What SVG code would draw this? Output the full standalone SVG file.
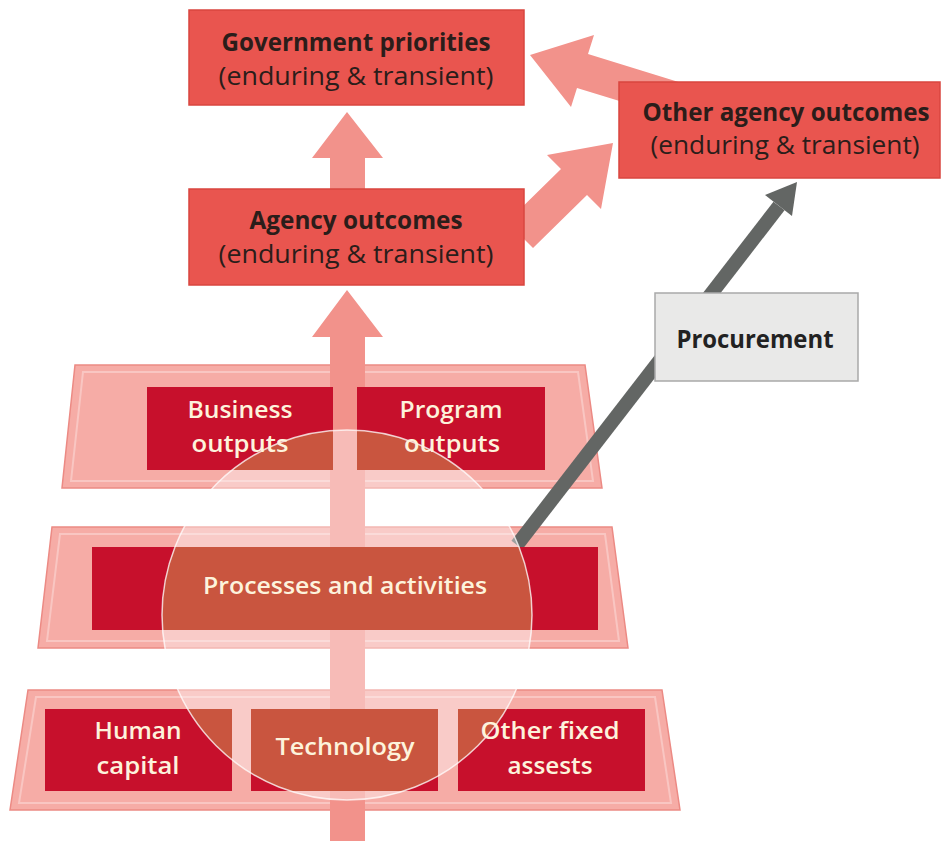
<svg xmlns="http://www.w3.org/2000/svg" width="943" height="841" viewBox="0 0 943 841">
<defs>
<style>
.top{fill:#e9554f;stroke:#d9463f;stroke-width:1.5}
.arr{fill:#f2928b}
.trap{fill:#f6aca6;stroke:#ec8a84;stroke-width:1.5}
.trapin{fill:none;stroke:#f9c6c2;stroke-width:2}
.dark{fill:#c7102c}
.over{fill:#c9553f}
.t1{font-family:"Open Sans","Noto Sans",sans-serif;font-size:25px;fill:#2b1d1a;text-anchor:middle}
.b{font-weight:700}
.w{font-family:"Open Sans","Noto Sans",sans-serif;font-size:24px;font-weight:600;fill:#fdf3dc;text-anchor:middle}
</style>
<clipPath id="circ"><circle cx="347" cy="615" r="185"/></clipPath>
</defs>

<g id="tiers">
<g id="tier-outputs">
<polygon class="trap" points="75,365 585,365 602,488 62,488"/>
<polygon class="trapin" points="83,372 578,372 593,481 71,481"/>
</g>
<g id="tier-processes">
<polygon class="trap" points="52,527 612,527 628,648 38,648"/>
<polygon class="trapin" points="60,534 605,534 619,641 47,641"/>
</g>
<g id="tier-inputs">
<polygon class="trap" points="28,690 662,690 680,810 10,810"/>
<polygon class="trapin" points="36,697 655,697 671,803 19,803"/>
</g>
</g>

<g id="connectors">
<polygon class="arr" points="330,841 330,337 312,337 347,290 383,337 365,337 365,841"/>
<polygon class="arr" points="330,189 330,158 312,158 347,112 383,158 365,158 365,189"/>
<polygon class="arr" points="685,84 588,54 594,35 530,55 571,107 577,88 675,118"/>
<polygon class="arr" points="507,222 561,169 547,155 613,143 601,209 587,195 533,248"/>
<line x1="517" y1="545" x2="779" y2="206" stroke="#636664" stroke-width="14"/>
<polygon fill="#636664" points="797,182 765,195 792,216"/>
</g>

<g id="boxes">
<rect id="business-outputs" class="dark" x="147" y="387" width="186" height="83"/>
<rect id="program-outputs" class="dark" x="357" y="387" width="188" height="83"/>
<rect id="processes" class="dark" x="92" y="547" width="506" height="83"/>
<rect id="human-capital" class="dark" x="45" y="709" width="187" height="82"/>
<rect id="technology" class="dark" x="251" y="709" width="187" height="82"/>
<rect id="other-fixed" class="dark" x="458" y="709" width="187" height="82"/>
</g>

<g id="circle">
<circle cx="347" cy="615" r="185" fill="#ffffff" fill-opacity="0.38"/>
<g clip-path="url(#circ)">
<rect class="over" x="147" y="387" width="186" height="83"/>
<rect class="over" x="357" y="387" width="188" height="83"/>
<rect class="over" x="92" y="547" width="506" height="83"/>
<rect class="over" x="45" y="709" width="187" height="82"/>
<rect class="over" x="251" y="709" width="187" height="82"/>
<rect class="over" x="458" y="709" width="187" height="82"/>
</g>
<circle cx="347" cy="615" r="185" fill="none" stroke="#ffffff" stroke-opacity="0.75" stroke-width="1.5"/>
</g>

<g id="gov">
<rect class="top" x="189" y="10" width="335" height="95"/>
<text class="t1 b" x="356" y="51" textLength="269" lengthAdjust="spacingAndGlyphs">Government priorities</text>
<text class="t1" x="356" y="85" textLength="275" lengthAdjust="spacingAndGlyphs">(enduring &amp; transient)</text>
</g>
<g id="agency">
<rect class="top" x="189" y="189" width="335" height="96"/>
<text class="t1 b" x="356" y="229" textLength="213" lengthAdjust="spacingAndGlyphs">Agency outcomes</text>
<text class="t1" x="356" y="263" textLength="275" lengthAdjust="spacingAndGlyphs">(enduring &amp; transient)</text>
</g>
<g id="other-agency">
<rect class="top" x="619" y="82" width="321" height="96"/>
<text class="t1 b" x="786" y="121" textLength="287" lengthAdjust="spacingAndGlyphs">Other agency outcomes</text>
<text class="t1" x="785" y="154" textLength="269" lengthAdjust="spacingAndGlyphs">(enduring &amp; transient)</text>
</g>
<g id="procurement">
<rect x="655" y="293" width="203" height="88" fill="#e9e9e8" stroke="#a9a9a9" stroke-width="1.5"/>
<text class="t1 b" x="755" y="348" textLength="157" lengthAdjust="spacingAndGlyphs" style="fill:#222">Procurement</text>
</g>

<g id="labels">
<text class="w" x="240" y="418" textLength="105" lengthAdjust="spacingAndGlyphs">Business</text>
<text class="w" x="240" y="452" textLength="97" lengthAdjust="spacingAndGlyphs">outputs</text>
<text class="w" x="451" y="418" textLength="103" lengthAdjust="spacingAndGlyphs">Program</text>
<text class="w" x="452" y="452" textLength="96" lengthAdjust="spacingAndGlyphs">outputs</text>
<text class="w" x="345" y="594" textLength="284" lengthAdjust="spacingAndGlyphs">Processes and activities</text>
<text class="w" x="138" y="739" textLength="87" lengthAdjust="spacingAndGlyphs">Human</text>
<text class="w" x="138" y="774" textLength="83" lengthAdjust="spacingAndGlyphs">capital</text>
<text class="w" x="345" y="755" textLength="139" lengthAdjust="spacingAndGlyphs">Technology</text>
<text class="w" x="550" y="739" textLength="139" lengthAdjust="spacingAndGlyphs">Other fixed</text>
<text class="w" x="550" y="774" textLength="85" lengthAdjust="spacingAndGlyphs">assests</text>
</g>
</svg>
